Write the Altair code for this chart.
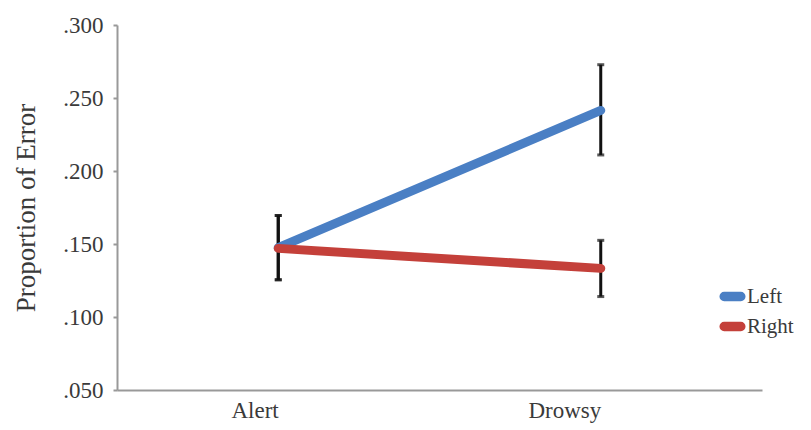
import altair as alt
import pandas as pd

conditions = ["Alert", "Drowsy"]
series = ["Left", "Right"]
left_mean = [0.1475, 0.2415]
left_lo = [0.1255, 0.2110]
left_hi = [0.1695, 0.2728]
right_mean = [0.1470, 0.1333]
right_lo = [0.1255, 0.1140]
right_hi = [0.1695, 0.1525]

rows = []
for s, m, lo, hi in [("Left", left_mean, left_lo, left_hi), ("Right", right_mean, right_lo, right_hi)]:
    for c, mv, l, h in zip(conditions, m, lo, hi):
        rows.append({"cond": c, "series": s, "mean": mv, "lo": l, "hi": h})
df = pd.DataFrame(rows)

FONT = "Liberation Serif"
TXT = "#3a3a3a"
CAPSULE = "M-1,-0.08L1,-0.08A0.08,0.08,0,0,1,1,0.08L-1,0.08A0.08,0.08,0,0,1,-1,-0.08Z"

xenc = alt.X("cond:N", sort=conditions, scale=alt.Scale(type="point", padding=0.5),
             axis=alt.Axis(title=None, ticks=False, labelAngle=0, labelFont=FONT, labelFontSize=23,
                           labelColor=TXT, labelPadding=20, domainColor="#999", domainWidth=2))
yscale = alt.Scale(domain=[0.05, 0.30], nice=False, zero=False)
yenc = alt.Y("mean:Q", scale=yscale,
             axis=alt.Axis(title="Proportion of Error", values=[0.05, 0.10, 0.15, 0.20, 0.25, 0.30],
                           labelExpr="substring(format(datum.value, '.3f'), 1)",
                           labelFont=FONT, labelFontSize=23, labelColor=TXT, labelPadding=10,
                           titleFont=FONT, titleFontSize=27, titleFontWeight="normal", titleColor=TXT,
                           titlePadding=22, grid=False, domainColor="#999", domainWidth=2,
                           tickColor="#999", tickSize=4, tickWidth=2))

color = alt.Color("series:N", scale=alt.Scale(domain=series, range=["#4a7fc4", "#c4403a"]),
                  legend=alt.Legend(title=None, orient="none", legendX=603, legendY=259,
                                    symbolType=CAPSULE, symbolStrokeWidth=8, symbolSize=280,
                                    labelFont=FONT, labelFontSize=21, labelColor=TXT,
                                    rowPadding=-12, labelOffset=2))

lines = alt.Chart(df).mark_line(strokeWidth=9, strokeCap="round").encode(x=xenc, y=yenc, color=color)

base_err = alt.Chart(df).encode(x=alt.X("cond:N", sort=conditions))
err = base_err.mark_rule(color="#111", strokeWidth=3).encode(
    y=alt.Y("lo:Q", scale=yscale), y2="hi:Q")
cap_lo = base_err.mark_tick(color="#111", size=7, thickness=3, orient="horizontal").encode(
    y=alt.Y("lo:Q", scale=yscale))
cap_hi = base_err.mark_tick(color="#111", size=7, thickness=3, orient="horizontal").encode(
    y=alt.Y("hi:Q", scale=yscale))

chart = alt.layer(err, cap_lo, cap_hi, lines).properties(
    width=645, height=365, background="white",
    padding={"left": 4, "top": 6, "right": 0, "bottom": 5}
).configure_view(strokeWidth=0)

chart.save("out.html", embed_options={"renderer": "svg", "actions": False})
